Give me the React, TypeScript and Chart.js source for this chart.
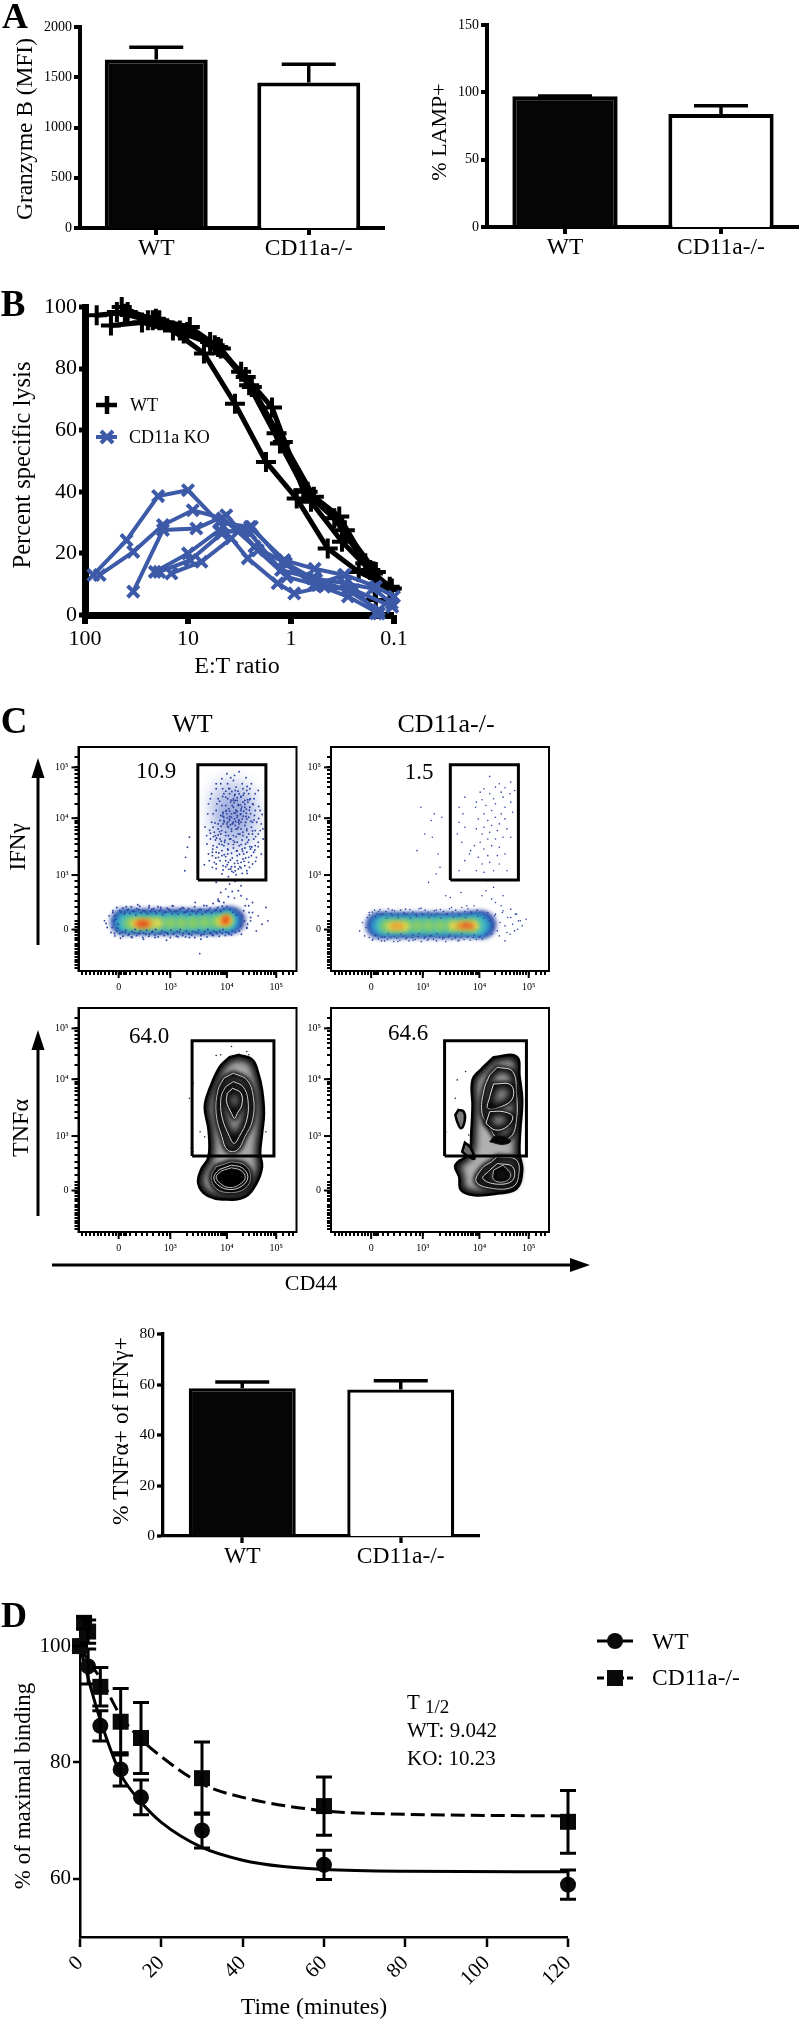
import React, { useEffect, useRef } from "react";
import { Chart, registerables } from "chart.js";

Chart.register(...registerables);

const F = "'Liberation Serif'";
const BLUE = "#3d5aa8";

/* ---------- panel A ---------- */
const barCats = ["WT", "CD11a-/-"];
const granzyme = [1676, 1448];
const granzymeTop = [1798, 1630];
const lamp = [97, 84];
const lampTop = [97.2, 90];
const tnfOfIfn = [58.5, 58];
const tnfOfIfnTop = [61, 61.5];

/* ---------- panel B: E:T ratio, percent lysis ---------- */
const wtX = [
  [56, 28, 14, 7, 3.5, 1.75, 0.88, 0.44, 0.22, 0.11],
  [77, 38.5, 19, 9.6, 4.8, 2.4, 1.2, 0.6, 0.3, 0.15],
  [44, 22, 11, 5.5, 2.75, 1.38, 0.69, 0.34, 0.17, 0.105],
  [49, 24.5, 12, 6.1, 3.05, 1.53, 0.76, 0.38, 0.19, 0.11],
  [41, 20.5, 10.2, 5.1, 2.55, 1.28, 0.64, 0.32, 0.16, 0.15],
];
const wtY = [
  [94, 95, 92.4, 84.9, 68.6, 49.7, 37.8, 21.6, 14, 9.2],
  [97.3, 98.4, 95.7, 93.5, 86.5, 74, 56.2, 38.4, 27.5, 14],
  [100, 95.7, 91.4, 87.6, 77.3, 59, 40, 32, 14.6, 8.6],
  [98.4, 95.7, 92.4, 88.6, 79, 67.4, 40.5, 31.4, 16.8, 8.1],
  [97.8, 96.2, 91.9, 87, 74.6, 55.7, 36.8, 23.8, 13.5, 4.9],
];
const koX = [
  [83, 39.5, 19.5, 10, 5, 2.5, 1.16, 0.59, 0.305, 0.15],
  [72, 34, 17.5, 9, 4.6, 2.26, 1.12, 0.57, 0.283, 0.14],
  [34, 17.5, 8.3, 4.25, 2.1, 1.1, 0.55, 0.28, 0.14],
  [21, 10, 4.94, 2.5, 1.25, 0.62, 0.3, 0.16, 0.105],
  [19, 9.5, 4.7, 2.4, 1.2, 0.6, 0.3, 0.15, 0.1],
  [14.5, 7.4, 3.8, 2.63, 1.35, 0.93, 0.475, 0.244, 0.104],
];
const koY = [
  [13, 24.3, 38.6, 40.5, 30, 28.6, 17.8, 15, 13, 0.5],
  [13, 20.5, 29.2, 34, 31.4, 22.2, 16.8, 11.4, 8.1, 1.6],
  [7.6, 27.6, 28.1, 32.4, 21, 12.4, 9.7, 6, 0.5],
  [14, 20, 27.6, 26.5, 14.6, 11.9, 10.3, 8.6, 3.8],
  [14, 17.8, 26.5, 28.6, 17.3, 9.7, 13, 9.2, 6],
  [13.5, 17.3, 24.9, 18.4, 10.3, 7, 9.2, 8.1, 2.7],
];

/* ---------- panel C: flow channels (biexponential display units) ---------- */
const flowMajorX = [105, 240, 388, 517];
const flowMajorY = [124, 287, 457, 609];
const flowLabels = ["0", "10³", "10⁴", "10⁵"];
const flowMinorX = [10, 20, 30, 40, 50, 60, 70, 80, 90, 98, 112, 118, 124, 135, 150, 165, 180, 195, 210, 222, 232, 284, 300, 312, 322, 332, 342, 350, 358, 365, 372, 378, 384, 430, 446, 458, 468, 478, 487, 495, 503, 510, 535, 550, 560];
const flowMinorY = [10, 18, 26, 34, 42, 50, 58, 66, 74, 82, 92, 100, 108, 116, 132, 140, 150, 170, 190, 210, 230, 250, 270, 340, 360, 380, 395, 410, 422, 432, 442, 450, 500, 530, 550, 565, 578, 590, 600, 640];

const ifnBandWt = [
  { color: "#2a3f9e", r: 13, x: [118, 145, 175, 205, 235, 265, 295, 325, 355, 385, 402], y: [147, 147, 147, 147, 147, 147, 147, 147, 147, 152, 152] },
  { color: "#2a7fc9", r: 11, x: [120, 145, 175, 205, 235, 265, 295, 325, 355, 385, 396], y: [147, 147, 146, 146, 146, 146, 146, 146, 147, 150, 150] },
  { color: "#45bcc0", r: 9, x: [125, 150, 175, 205, 235, 265, 295, 325, 355, 385, 390], y: [145, 145, 145, 145, 145, 145, 145, 145, 147, 150, 150] },
  { color: "#86cc68", r: 6.5, x: [135, 160, 185, 210, 240, 270, 300, 330, 360, 385], y: [143, 143, 143, 143, 143, 143, 144, 146, 147, 150] },
  { color: "#ead94e", r: 4.5, x: [148, 165, 185, 205, 372, 385, 390], y: [142, 142, 142, 143, 148, 150, 152] },
  { color: "#f08a28", r: 3.5, x: [155, 168, 182, 382, 386], y: [142, 142, 143, 148, 155] },
  { color: "#e0261a", r: 2.2, x: [160, 168, 176, 384, 386], y: [140, 142, 140, 148, 158] },
];
const ifnBandKo = [
  { color: "#2a3f9e", r: 13, x: [125, 150, 180, 210, 240, 270, 300, 330, 360, 385, 398], y: [137, 137, 137, 137, 137, 137, 137, 137, 140, 140, 138] },
  { color: "#2a7fc9", r: 11, x: [128, 155, 180, 210, 240, 270, 300, 330, 360, 380, 392], y: [137, 137, 137, 137, 137, 137, 137, 137, 138, 138, 136] },
  { color: "#45bcc0", r: 9, x: [135, 155, 180, 210, 240, 270, 300, 330, 355, 375, 385], y: [136, 136, 136, 136, 136, 136, 136, 136, 136, 136, 136] },
  { color: "#86cc68", r: 6.5, x: [145, 170, 195, 225, 255, 285, 315, 345, 370], y: [135, 135, 135, 135, 136, 136, 136, 136, 136] },
  { color: "#ead94e", r: 4.5, x: [158, 175, 192, 320, 340, 360, 375], y: [134, 134, 134, 135, 135, 136, 135] },
  { color: "#f08a28", r: 3, x: [165, 180, 335, 350, 365], y: [134, 134, 135, 135, 135] },
  { color: "#e0261a", r: 2, x: [345, 355, 365], y: [134, 138, 132] },
];
const ifnCloudBlobWt = { color: "rgba(50,85,185,0.25)", r: 22, x: [410, 405, 400], y: [470, 420, 510] };
const ifnDotsWtX = [340, 352, 331, 345, 358, 336, 350, 366, 342, 329, 360, 375, 392, 410, 428, 447, 463, 478, 470, 483, 475, 466, 480, 471, 459, 470, 452, 438, 420, 405, 388, 372, 360, 348, 365, 380, 395, 412, 430, 445, 455, 442, 425, 408, 390, 375, 360, 372, 386, 402, 418, 435, 450, 440, 425, 410, 395, 380, 365, 375, 390, 405, 420, 435, 452, 445, 430, 415, 400, 385, 370, 382, 398, 412, 428, 442, 458, 450, 435, 420, 405, 390, 375, 362, 385, 400, 415, 432, 445, 425, 408, 392, 378, 398, 418, 435, 355, 348, 362, 377, 428, 448, 462, 478, 340, 355, 470, 458, 360, 378, 395, 410, 425, 385, 402, 418, 372, 392, 408, 425, 440, 365, 455, 380, 290, 285, 280, 278, 395, 412, 405, 418, 430, 388, 400, 415, 425, 378, 392, 440, 422, 408];
const ifnDotsWtY = [500, 470, 431, 412, 392, 380, 355, 340, 330, 318, 306, 290, 282, 300, 292, 310, 328, 350, 372, 395, 420, 445, 468, 492, 515, 540, 560, 578, 596, 570, 590, 560, 545, 530, 515, 530, 545, 550, 545, 530, 500, 512, 520, 525, 515, 495, 480, 465, 480, 495, 498, 490, 470, 455, 470, 472, 462, 450, 440, 420, 432, 445, 450, 435, 430, 410, 415, 425, 418, 405, 395, 385, 395, 402, 392, 385, 395, 365, 368, 375, 378, 365, 360, 370, 342, 352, 345, 350, 340, 325, 322, 325, 315, 305, 305, 315, 415, 445, 500, 545, 560, 545, 480, 440, 350, 325, 410, 355, 265, 272, 260, 268, 255, 245, 238, 240, 235, 222, 218, 225, 215, 215, 205, 205, 400, 370, 340, 300, 455, 480, 510, 445, 505, 440, 470, 460, 480, 475, 405, 420, 410, 385];
const ifnMoreWtX = [400, 408, 415, 395, 388, 420, 428, 412, 405, 398, 385, 378, 370, 392, 400, 410, 418, 425, 437, 445, 432, 425, 415, 405, 395, 385, 410, 420, 435, 448, 460, 455, 440, 430, 418, 405, 395, 385, 372, 365, 378, 352, 345, 358, 368, 380, 392, 405, 415, 425, 437, 448, 462, 470, 455, 462, 440, 352, 360, 375, 390, 402, 415, 428, 440, 452, 465, 445, 430, 415, 400, 385, 370, 360, 350, 378, 405, 422, 440, 455, 412, 398, 375, 360, 345, 338, 335, 350, 390, 408, 440, 462, 475, 482, 412, 402, 390, 380, 425, 395, 438, 418, 410];
const ifnMoreWtY = [460, 455, 465, 450, 470, 440, 455, 480, 490, 505, 495, 470, 450, 430, 425, 435, 430, 445, 445, 460, 478, 485, 510, 515, 530, 520, 540, 530, 510, 490, 465, 445, 425, 405, 410, 405, 395, 415, 410, 425, 440, 430, 395, 405, 380, 375, 380, 390, 385, 378, 380, 372, 375, 385, 410, 420, 400, 375, 355, 345, 350, 338, 360, 365, 355, 345, 340, 325, 335, 330, 312, 330, 330, 320, 310, 302, 295, 312, 300, 320, 288, 578, 575, 560, 515, 470, 405, 345, 560, 585, 540, 530, 480, 425, 425, 440, 445, 460, 425, 478, 462, 495, 510];
const ifnThirdWtX = [403, 411, 419, 397, 389, 381, 373, 407, 415, 423, 431, 439, 447, 427, 435, 443, 451, 459, 393, 385, 377, 369, 361, 353, 399, 407, 415, 423, 431, 439, 447, 455, 463, 471, 391, 383, 375, 367, 359, 351, 343, 405, 413, 421, 429, 437, 445, 453, 461, 397, 389, 381, 373, 365, 357, 401, 409, 417, 425, 433, 441, 449, 457, 393, 385, 377, 369, 409, 417, 425, 433, 441, 401, 393, 385];
const ifnThirdWtY = [441, 447, 452, 437, 458, 446, 433, 473, 477, 468, 463, 472, 481, 491, 499, 505, 448, 452, 485, 478, 463, 417, 398, 402, 511, 503, 518, 497, 526, 484, 512, 419, 402, 456, 362, 391, 378, 353, 338, 364, 421, 368, 359, 349, 358, 338, 392, 371, 362, 332, 318, 348, 388, 407, 443, 537, 528, 538, 522, 532, 552, 515, 498, 546, 538, 522, 508, 312, 322, 308, 328, 292, 298, 304, 312];
const ifnEdgeWtX = [68, 75, 80, 85, 90, 72, 95, 100, 110, 125, 140, 155, 170, 185, 200, 215, 230, 245, 260, 275, 290, 305, 320, 335, 350, 365, 440, 450, 455, 465, 470, 480, 490, 495, 445, 317];
const ifnEdgeWtY = [150, 130, 165, 115, 180, 142, 105, 190, 98, 192, 100, 198, 95, 195, 100, 190, 92, 195, 102, 188, 100, 205, 95, 195, 108, 210, 130, 150, 175, 120, 165, 140, 190, 150, 195, 52];
const ifnRagWtX = [108, 116, 122, 130, 138, 146, 152, 160, 168, 176, 184, 192, 200, 208, 216, 224, 232, 240, 248, 256, 264, 272, 280, 288, 296, 304, 312, 320, 328, 336, 344, 352, 360, 368, 376, 108, 116, 122, 130, 138, 146, 152, 160, 168, 176, 184, 192, 200, 208, 216, 224, 232, 240, 248, 256, 264, 272, 280, 288, 296, 304, 312, 320, 328, 336, 344, 352, 360, 368, 376, 384, 392, 400, 88, 92, 96, 100, 104, 90, 94, 98, 102, 420, 424, 428, 432, 426, 434, 440, 446, 436, 442, 450];
const ifnRagWtY = [180, 188, 176, 184, 192, 178, 186, 194, 180, 176, 190, 183, 178, 192, 184, 176, 188, 180, 194, 178, 184, 190, 176, 186, 180, 192, 178, 184, 196, 180, 188, 202, 184, 208, 194, 112, 104, 116, 108, 102, 114, 106, 112, 100, 110, 104, 116, 108, 102, 112, 106, 114, 100, 110, 104, 116, 106, 102, 112, 108, 100, 114, 106, 110, 102, 112, 106, 116, 104, 112, 106, 114, 108, 130, 150, 165, 120, 140, 175, 112, 155, 128, 120, 135, 165, 180, 110, 150, 128, 175, 195, 140, 160];
const ifnGrainWtX = [112, 120, 128, 134, 142, 150, 158, 164, 172, 180, 188, 196, 204, 212, 220, 228, 236, 244, 252, 260, 268, 276, 284, 292, 300, 308, 316, 324, 332, 340, 348, 356, 364, 372, 380, 388, 396, 404, 412, 114, 124, 132, 140, 148, 156, 162, 170, 178, 186, 194, 202, 210, 218, 226, 234, 242, 250, 258, 266, 274, 282, 290, 298, 306, 314, 322, 330, 338, 346, 354, 362, 370, 378, 386, 394, 402, 410];
const ifnGrainWtY = [176, 170, 182, 172, 178, 168, 184, 174, 180, 170, 178, 186, 172, 180, 168, 176, 184, 172, 178, 170, 186, 174, 180, 168, 178, 172, 184, 170, 176, 182, 174, 180, 190, 178, 186, 192, 184, 176, 168, 116, 122, 110, 118, 124, 112, 120, 114, 122, 110, 118, 124, 112, 120, 116, 110, 122, 114, 118, 124, 112, 120, 110, 118, 116, 122, 110, 118, 124, 114, 120, 112, 118, 124, 116, 110, 120, 116];
const ifnDotsKoX = [415, 440, 470, 455, 430, 400, 390, 415, 445, 468, 480, 450, 425, 395, 380, 350, 335, 345, 335, 350, 330, 342, 362, 350, 335, 378, 405, 430, 455, 470, 475, 445, 420, 400, 385, 410, 430, 455, 440, 420, 400, 380, 395, 415, 435, 460, 470, 450, 430, 410, 390, 375, 400, 420, 440, 455, 435, 410, 385, 365, 395, 415, 440, 460, 425, 400, 380, 410, 425, 405, 395, 420, 430, 450, 235, 262, 270, 245, 225, 290, 265, 275, 285, 255, 280, 300, 312, 340];
const ifnDotsKoY = [582, 560, 565, 548, 550, 545, 535, 530, 535, 530, 540, 520, 515, 512, 505, 520, 490, 470, 445, 430, 410, 385, 350, 330, 300, 490, 495, 500, 490, 505, 475, 470, 480, 470, 455, 450, 460, 455, 440, 435, 430, 425, 410, 415, 420, 425, 400, 400, 395, 395, 385, 375, 365, 375, 370, 350, 345, 345, 340, 360, 320, 325, 320, 300, 300, 295, 300, 270, 250, 240, 225, 215, 205, 225, 490, 450, 470, 410, 360, 460, 400, 290, 310, 265, 350, 225, 220, 235];
const ifnEdgeKoX = [75, 82, 88, 95, 92, 100, 110, 125, 140, 160, 175, 195, 215, 235, 255, 275, 295, 315, 335, 355, 410, 420, 430, 440, 450, 460, 470, 480, 490, 500, 510, 470, 485, 445, 455, 415, 422, 428, 435, 442, 448, 455, 462, 468, 475, 482, 488, 495];
const ifnEdgeKoY = [120, 145, 105, 160, 130, 175, 95, 178, 90, 182, 88, 185, 92, 188, 95, 182, 100, 190, 92, 195, 175, 110, 170, 105, 180, 115, 160, 120, 150, 135, 155, 185, 170, 195, 90, 150, 130, 165, 120, 145, 175, 135, 160, 110, 140, 170, 125, 150];
const ifnRagKoX = [100, 108, 114, 120, 128, 136, 144, 150, 158, 166, 174, 182, 190, 198, 206, 214, 222, 230, 238, 246, 254, 262, 270, 278, 286, 294, 302, 310, 318, 326, 334, 342, 350, 358, 366, 374, 382, 100, 108, 116, 124, 132, 140, 148, 156, 164, 172, 180, 188, 196, 204, 212, 220, 228, 236, 244, 252, 260, 268, 276, 284, 292, 300, 308, 316, 324, 332, 340, 348, 356, 364, 372, 380, 388, 396];
const ifnRagKoY = [168, 176, 182, 172, 184, 170, 178, 186, 172, 180, 168, 182, 175, 170, 184, 176, 170, 186, 172, 182, 176, 168, 180, 172, 184, 178, 170, 186, 176, 182, 172, 190, 178, 186, 176, 195, 182, 100, 92, 106, 96, 90, 102, 94, 100, 88, 98, 92, 104, 96, 90, 100, 94, 102, 88, 98, 92, 104, 94, 90, 100, 96, 88, 102, 94, 98, 90, 100, 94, 104, 92, 100, 94, 102, 96];
const ifnGrainKoX = [116, 130, 146, 160, 176, 192, 208, 224, 240, 256, 272, 288, 304, 320, 336, 352, 368, 384, 400, 118, 134, 150, 166, 182, 198, 214, 230, 246, 262, 278, 294, 310, 326, 342, 358, 374, 390, 406];
const ifnGrainKoY = [162, 168, 158, 166, 160, 170, 158, 164, 168, 160, 166, 158, 170, 162, 166, 160, 172, 164, 158, 108, 102, 112, 104, 110, 100, 108, 112, 102, 106, 112, 100, 108, 104, 112, 102, 108, 104, 110];

// gate rectangles, closed
const gateIfnX = [312, 490, 490, 312, 312];
const gateIfnY = [272, 272, 617, 617, 272];
const gateTnfX = [297, 511, 511, 297, 297];
const gateTnfY = [227, 227, 572, 572, 227];

// contours: [x, y, x, y, ...], listed from the outside in
const tnfWt = [
  { fill: "#a8a8a8", line: "#000", w: 2.5, p: [420, 530, 455, 515, 470, 475, 480, 425, 485, 355, 480, 295, 475, 235, 480, 195, 465, 145, 435, 105, 385, 97, 335, 110, 313, 145, 320, 185, 340, 225, 340, 305, 330, 375, 345, 435, 370, 495, 395, 523] },
  { fill: "#9a9a9a", line: "#cfcfcf", w: 1, halo: true, p: [405, 475, 440, 455, 457, 405, 455, 335, 435, 285, 415, 245, 390, 245, 375, 285, 360, 355, 365, 425, 380, 460] },
  { fill: "#9e9e9e", line: "#d4d4d4", w: 1, halo: true, p: [405, 450, 430, 435, 443, 395, 440, 335, 420, 285, 407, 265, 395, 285, 375, 345, 373, 405, 385, 435] },
  { fill: "#a6a6a6", line: "#dedede", w: 1, halo: true, p: [403, 430, 425, 415, 427, 380, 415, 355, 408, 340, 400, 355, 387, 390, 389, 415] },
  { fill: "#7c7c7c", line: "#cfcfcf", w: 1, halo: true, p: [400, 210, 435, 200, 450, 165, 435, 130, 395, 118, 360, 130, 347, 165, 360, 195] },
  { fill: "#5a5a5a", line: "#cfcfcf", w: 1, halo: true, p: [400, 200, 428, 192, 443, 165, 428, 138, 395, 127, 364, 141, 354, 165, 368, 187] },
  { fill: "#333333", line: "#bdbdbd", w: 1, p: [400, 192, 425, 184, 436, 163, 422, 143, 395, 133, 371, 145, 360, 165, 374, 183] },
  { fill: "#050505", line: "#080808", w: 1, p: [400, 188, 422, 178, 430, 160, 418, 143, 395, 137, 375, 147, 365, 165, 380, 182] },
];
const tnfKo = [
  { fill: "#b0b0b0", line: "#000", w: 2.5, p: [425, 523, 485, 525, 493, 465, 500, 395, 495, 305, 493, 235, 500, 185, 485, 130, 435, 115, 375, 110, 340, 125, 335, 165, 325, 200, 360, 235, 367, 305, 370, 375, 370, 455, 395, 490] },
  { fill: "#a8a8a8", line: "#d8d8d8", w: 1, halo: true, p: [435, 493, 475, 480, 485, 415, 485, 335, 470, 285, 435, 280, 415, 315, 395, 355, 400, 425, 415, 470] },
  { fill: "#8a8a8a", line: "#dedede", w: 1, halo: true, p: [425, 443, 470, 440, 475, 400, 445, 375, 410, 370, 415, 405] },
  { fill: "#a0a0a0", line: "#dedede", w: 1, halo: true, p: [415, 360, 450, 360, 475, 345, 460, 315, 430, 305, 405, 325] },
  { fill: "#0a0a0a", line: "#0a0a0a", w: 1, shade: 2, p: [415, 270, 450, 262, 470, 272, 450, 285, 425, 285] },
  { fill: "#a8a8a8", line: "#d8d8d8", w: 1, halo: true, p: [435, 225, 485, 215, 490, 165, 475, 135, 425, 130, 380, 150, 395, 190, 420, 210] },
  { fill: "#8a8a8a", line: "#d8d8d8", w: 1, halo: true, p: [435, 205, 475, 195, 475, 155, 435, 143, 397, 160, 415, 185] },
  { fill: "#383838", line: "#aaaaaa", w: 1, p: [450, 200, 470, 170, 453, 150, 425, 157, 425, 185] },
  { fill: "#cfcfcf", line: "#000", w: 2.5, shade: 3, p: [333, 365, 347, 360, 350, 335, 340, 310, 330, 330, 325, 350] },
  { fill: "#c0c0c0", line: "#000", w: 2.5, shade: 3, p: [350, 267, 363, 255, 375, 220, 360, 225, 343, 240] },
];
const tnfSpeckWtX = [300, 330, 290, 318, 395, 400, 372, 440, 445, 300, 295, 490, 360];
const tnfSpeckWtY = [445, 285, 400, 300, 520, 555, 530, 540, 530, 240, 250, 300, 528];
const tnfSpeckKoX = [330, 352, 325, 300, 360, 335, 350];
const tnfSpeckKoY = [455, 480, 400, 300, 290, 215, 240];

/* ---------- panel D ---------- */
const timeWt = [0, 2, 5, 10, 15, 30, 60, 120];
const bindWt = [100, 96.5, 86.3, 78.8, 74, 68.3, 62.4, 59];
const errWt = [0, 3, 2.6, 2.85, 3, 3, 2.5, 2.5];
const timeKo = [0, 1, 2, 5, 10, 15, 30, 60, 120];
const bindKo = [100, 104, 102.5, 93, 87, 84.2, 77.3, 72.5, 69.8];
const errKo = [0, 1, 2, 3.3, 5.7, 6.1, 6.2, 5, 5.4];
const fitWtX = [0, 2, 5, 10, 15, 20, 30, 40, 50, 60, 80, 120];
const fitWtY = [100, 94.5, 87.3, 78, 73.2, 69.7, 65.4, 63.2, 62.1, 61.6, 61.3, 61.2];
const fitKoX = [0, 2, 5, 10, 15, 20, 30, 40, 60, 80, 120];
const fitKoY = [100, 97.5, 94.5, 88, 84, 81, 76.3, 74, 71.7, 71.1, 70.8];

/* ---------- plugins ---------- */
const errorBars = {
  id: "errorBars",
  afterDatasetDraw(chart: any, args: any) {
    const ds = chart.data.datasets[args.index];
    if (!ds.errHi) return;
    const { ctx } = chart;
    const ys = chart.scales.y;
    ctx.save();
    ctx.strokeStyle = "#000";
    ctx.lineWidth = ds.errW;
    args.meta.data.forEach((el: any, i: number) => {
      const x = el.x;
      const hi = ys.getPixelForValue(ds.errHi[i]);
      const lo = ys.getPixelForValue(ds.errLo ? ds.errLo[i] : ds.data[i].y ?? ds.data[i]);
      ctx.beginPath();
      ctx.moveTo(x, lo);
      ctx.lineTo(x, hi);
      ctx.moveTo(x - ds.errCap, hi);
      ctx.lineTo(x + ds.errCap, hi);
      if (ds.errLo) {
        ctx.moveTo(x - ds.errCap, lo);
        ctx.lineTo(x + ds.errCap, lo);
      }
      ctx.stroke();
    });
    ctx.restore();
  },
};

const shading = {
  id: "shading",
  beforeDatasetDraw(chart: any, args: any) {
    const ds = chart.data.datasets[args.index];
    const { ctx } = chart;
    if (ds.blur) {
      ctx.save();
      ctx.filter = `blur(${ds.blur}px)`;
    }
    if (ds.contour) {
      const line = args.meta.dataset;
      line._loop = true;
      line._segments = undefined;
      line._pointsUpdated = false;
      line.updateControlPoints(chart.chartArea);
      const trace = () => {
        ctx.beginPath();
        line.path(ctx);
        ctx.closePath();
      };
      if (ds.halo) {
        ctx.save();
        ctx.filter = "blur(2px)";
        ctx.strokeStyle = "#000";
        ctx.lineWidth = 5;
        trace();
        ctx.stroke();
        ctx.restore();
      }
      ctx.save();
      trace();
      ctx.clip();
      ctx.fillStyle = ds.backgroundColor;
      ctx.fill();
      ctx.filter = "blur(3.5px)";
      ctx.strokeStyle = "#000";
      ctx.lineWidth = ds.shade || 10;
      trace();
      ctx.stroke();
      ctx.restore();
      ctx.strokeStyle = ds.borderColor;
      ctx.lineWidth = ds.borderWidth;
      trace();
      ctx.stroke();
      return false;
    }
    return undefined;
  },
  afterDatasetDraw(chart: any, args: any) {
    if (chart.data.datasets[args.index].blur) chart.ctx.restore();
  },
};

const frame = {
  id: "frame",
  afterDraw(chart: any, _a: any, opts: any) {
    if (!opts.on) return;
    const { ctx, chartArea: c } = chart;
    ctx.save();
    ctx.strokeStyle = "#000";
    ctx.lineWidth = 2;
    ctx.strokeRect(c.left, c.top, c.right - c.left, c.bottom - c.top);
    ctx.restore();
  },
};

const longTicks = {
  id: "longTicks",
  afterDraw(chart: any, _a: any, opts: any) {
    const { ctx, chartArea: c } = chart;
    ctx.save();
    ctx.strokeStyle = "#000";
    if (opts.x) {
      ctx.lineWidth = opts.x.w;
      opts.x.values.forEach((v: number) => {
        const p = chart.scales.x.getPixelForValue(v);
        ctx.beginPath();
        ctx.moveTo(p, c.bottom);
        ctx.lineTo(p, c.bottom + opts.x.len);
        ctx.stroke();
      });
    }
    if (opts.y) {
      ctx.lineWidth = opts.y.w;
      opts.y.values.forEach((v: number) => {
        const p = chart.scales.y.getPixelForValue(v);
        ctx.beginPath();
        ctx.moveTo(c.left, p);
        ctx.lineTo(c.left - opts.y.len, p);
        ctx.stroke();
      });
    }
    ctx.restore();
  },
};

/* ---------- helpers ---------- */
type Box = { l: number; t: number; r: number; b: number };

function axis(lw: number, tickLen: number, tickW: number, size: number, pad: number, extra: any = {}) {
  return {
    border: { color: "#000", width: lw },
    grid: { drawOnChartArea: false, drawTicks: true, tickLength: tickLen, tickWidth: tickW, tickColor: "#000", lineWidth: 0, offset: false },
    ticks: { color: "#000", font: { family: F, size }, padding: pad, autoSkip: false, maxRotation: 0, minRotation: 0, ...(extra.ticks || {}) },
    ...(extra.rest || {}),
  };
}

function build(type: string, box: Box, plot: Box, datasets: any[], x: any, y: any, labels: any = undefined, pluginOpts: any = {}) {
  return {
    box,
    config: {
      type,
      data: { labels, datasets: [...datasets].reverse() },
      plugins: [errorBars, shading, frame, longTicks],
      options: {
        responsive: false,
        animation: false,
        devicePixelRatio: 1,
        events: [],
        layout: { autoPadding: false, padding: { top: plot.t - box.t, right: box.r - plot.r, left: 0, bottom: 0 } },
        plugins: { legend: { display: false }, tooltip: { enabled: false }, frame: { on: false }, longTicks: {}, ...pluginOpts },
        scales: {
          x: { ...x, afterFit(s: any) { s.height = box.b - plot.b; } },
          y: { ...y, afterFit(s: any) { s.width = plot.l - box.l; } },
        },
      },
    },
  };
}

const pts = (xs: number[], ys: number[]) => xs.map((v, i) => ({ x: v, y: ys[i] }));
const pairs = (p: number[]) => {
  const out = [];
  for (let i = 0; i < p.length; i += 2) out.push({ x: p[i], y: p[i + 1] });
  return out;
};

function barChart(box: Box, plot: Box, vals: number[], tops: number[], yMax: number, yStep: number, lw: number, size: number) {
  const ds = [
    {
      type: "bar",
      data: vals,
      backgroundColor: ["#050505", "#ffffff"],
      borderColor: "#000",
      borderWidth: lw,
      barPercentage: 0.675,
      categoryPercentage: 1,
      errHi: tops,
      errCap: 27,
      errW: 3.5,
    },
  ];
  const yTicks: number[] = [];
  for (let v = 0; v <= yMax; v += yStep) yTicks.push(v);
  return build(
    "bar",
    box,
    plot,
    ds,
    axis(lw, 7, lw, 23.5, 0, { rest: {} }),
    axis(lw, 6, lw, size, 2, {
      ticks: { callback: (v: number) => String(v) },
      rest: { min: 0, max: yMax, afterBuildTicks(s: any) { s.ticks = yTicks.map((value) => ({ value })); } },
    }),
    barCats
  );
}

function flowScatter(layers: any[] | null, blobs: any, dots: number[][][], dotR: number, gx: number[], gy: number[], box: Box, plot: Box, contours: any[] | null) {
  const ds: any[] = [];
  if (blobs) ds.push({ data: pts(blobs.x, blobs.y), pointRadius: blobs.r, pointBackgroundColor: blobs.color, pointBorderWidth: 0, blur: 8 });
  if (layers) {
    layers.forEach((l) =>
      ds.push({ data: pts(l.x, l.y), pointRadius: l.r, pointBackgroundColor: l.color, pointBorderWidth: 0, blur: 2.5 })
    );
  }
  dots.forEach((d) => ds.push({ data: pts(d[0], d[1]), pointRadius: dotR, pointBackgroundColor: contours ? "#222" : "#2f45a3", pointBorderWidth: 0 }));
  if (contours) {
    contours.forEach((c) =>
      ds.push({ data: pairs(c.p), showLine: true, pointRadius: 0, tension: 0.4, contour: true, halo: c.halo, shade: c.shade, backgroundColor: c.fill, borderColor: c.line, borderWidth: c.w })
    );
  }
  ds.push({ data: pts(gx, gy), showLine: true, pointRadius: 0, borderColor: "#000", borderWidth: 3, tension: 0, borderJoinStyle: "miter" });

  const label = (majors: number[]) => (v: number) => {
    const i = majors.indexOf(v);
    return i >= 0 ? flowLabels[i] : "";
  };
  const xs = [...flowMinorX, ...flowMajorX].sort((a, b) => a - b);
  const ys = [...flowMinorY, ...flowMajorY].sort((a, b) => a - b);
  return build(
    "scatter",
    box,
    plot,
    ds,
    axis(2, 4, 2, 10, 6, { ticks: { callback: label(flowMajorX) }, rest: { type: "linear", min: 0, max: 570, afterBuildTicks(s: any) { s.ticks = xs.map((value) => ({ value })); } } }),
    axis(2, 4, 2, 10, 6, { ticks: { callback: label(flowMajorY) }, rest: { type: "linear", min: 0, max: 670, afterBuildTicks(s: any) { s.ticks = ys.map((value) => ({ value })); } } }),
    undefined,
    { frame: { on: true }, longTicks: { x: { values: flowMajorX, len: 7, w: 2 }, y: { values: flowMajorY, len: 7, w: 2 } } }
  );
}

/* ---------- charts ---------- */
const logMajors = [100, 10, 1, 0.1];
const lysisDatasets = [
  ...wtX.map((xs, i) => ({ data: pts(xs, wtY[i]), showLine: true, borderColor: "#000", borderWidth: 5, pointStyle: "cross", pointRadius: 10, pointBorderColor: "#000", pointBorderWidth: 4, clip: false })),
  ...koX.map((xs, i) => ({ data: pts(xs, koY[i]), showLine: true, borderColor: BLUE, borderWidth: 4, pointStyle: "crossRot", pointRadius: 8, pointBorderColor: BLUE, pointBorderWidth: 4, clip: false })),
];

const yLysisTicks = [0, 20, 40, 60, 80, 100];
const lysis = build(
  "scatter",
  { l: 30, t: 285, r: 425, b: 655 },
  { l: 85, t: 307, r: 394, b: 615 },
  lysisDatasets,
  axis(7, 4, 2.5, 22, 7, {
    ticks: { callback: (v: number) => (logMajors.some((m) => Math.abs(m - v) < 1e-9) ? String(v) : "") },
    rest: { type: "logarithmic", min: 0.1, max: 100, reverse: true },
  }),
  axis(7, 6, 5, 22, 2, { rest: { type: "linear", min: 0, max: 100, afterBuildTicks(s: any) { s.ticks = yLysisTicks.map((value) => ({ value })); } } }),
  undefined,
  { longTicks: { x: { values: logMajors, len: 9, w: 6 } } }
);

const decay = build(
  "scatter",
  { l: 30, t: 1600, r: 590, b: 1990 },
  { l: 80, t: 1617, r: 568, b: 1937 },
  [
    { data: pts(fitKoX, fitKoY), showLine: true, pointRadius: 0, borderColor: "#000", borderWidth: 3, borderDash: [14, 6], cubicInterpolationMode: "monotone", clip: false },
    { data: pts(fitWtX, fitWtY), showLine: true, pointRadius: 0, borderColor: "#000", borderWidth: 3, cubicInterpolationMode: "monotone", clip: false },
    { data: pts(timeWt, bindWt), pointStyle: "circle", pointRadius: 8, pointBackgroundColor: "#0a0a0a", pointBorderWidth: 0, errHi: bindWt.map((v, i) => v + errWt[i]), errLo: bindWt.map((v, i) => v - errWt[i]), errCap: 8, errW: 3, clip: false },
    { data: pts(timeKo, bindKo), pointStyle: "rect", pointRadius: 11.3, pointBackgroundColor: "#0a0a0a", pointBorderWidth: 0, errHi: bindKo.map((v, i) => v + errKo[i]), errLo: bindKo.map((v, i) => v - errKo[i]), errCap: 8, errW: 3, clip: false },
  ],
  axis(2.5, 10, 2.5, 21, 4, {
    ticks: { maxRotation: 45, minRotation: 45 },
    rest: { type: "linear", min: 0, max: 120, afterBuildTicks(s: any) { s.ticks = [0, 20, 40, 60, 80, 100, 120].map((value) => ({ value })); } },
  }),
  axis(2.5, 7, 2.5, 21, 2, { rest: { type: "linear", min: 50, max: 105, afterBuildTicks(s: any) { s.ticks = [60, 80, 100].map((value) => ({ value })); } } })
);

const charts = [
  barChart({ l: 30, t: 10, r: 395, b: 262 }, { l: 80, t: 27, r: 385, b: 228 }, granzyme, granzymeTop, 2000, 500, 4, 14),
  barChart({ l: 445, t: 10, r: 800, b: 262 }, { l: 487, t: 25, r: 799, b: 227 }, lamp, lampTop, 150, 50, 4, 14),
  lysis,
  flowScatter(ifnBandWt, ifnCloudBlobWt, [[ifnDotsWtX, ifnDotsWtY], [ifnMoreWtX, ifnMoreWtY], [ifnThirdWtX, ifnThirdWtY], [ifnEdgeWtX, ifnEdgeWtY], [ifnRagWtX, ifnRagWtY], [ifnGrainWtX, ifnGrainWtY]], 0.95, gateIfnX, gateIfnY, { l: 45, t: 735, r: 305, b: 997 }, { l: 78.5, t: 747, r: 296.5, b: 971 }, null),
  flowScatter(ifnBandKo, null, [[ifnDotsKoX, ifnDotsKoY], [ifnEdgeKoX, ifnEdgeKoY], [ifnRagKoX, ifnRagKoY], [ifnGrainKoX, ifnGrainKoY]], 0.8, gateIfnX, gateIfnY, { l: 298, t: 735, r: 558, b: 997 }, { l: 331, t: 747, r: 549, b: 971 }, null),
  flowScatter(null, null, [[tnfSpeckWtX, tnfSpeckWtY]], 0.8, gateTnfX, gateTnfY, { l: 45, t: 996, r: 305, b: 1258 }, { l: 78.5, t: 1008, r: 296.5, b: 1232 }, tnfWt),
  flowScatter(null, null, [[tnfSpeckKoX, tnfSpeckKoY]], 0.8, gateTnfX, gateTnfY, { l: 298, t: 996, r: 558, b: 1258 }, { l: 331, t: 1008, r: 549, b: 1232 }, tnfKo),
  barChart({ l: 115, t: 1320, r: 490, b: 1570 }, { l: 163, t: 1334, r: 480, b: 1536 }, tnfOfIfn, tnfOfIfnTop, 80, 20, 3.3, 15.5),
  decay,
];

/* ---------- components ---------- */
function ChartCanvas({ spec }: { spec: any }) {
  const ref = useRef<HTMLCanvasElement>(null);
  useEffect(() => {
    const chart = new Chart(ref.current as any, spec.config as any);
    return () => chart.destroy();
  }, [spec]);
  const { l, t, r, b } = spec.box;
  return <canvas ref={ref} width={r - l} height={b - t} style={{ position: "absolute", left: l, top: t, width: r - l, height: b - t, display: "block" }} />;
}

function Txt({ x, y, size, children, rot = 0, bold = false, align = "center" }: any) {
  const tx = align === "left" ? "0%" : "-50%";
  return (
    <div
      style={{
        position: "absolute",
        left: x,
        top: y,
        transform: `translate(${tx},-50%) rotate(${rot}deg)`,
        font: `${bold ? "bold " : ""}${size}px/1 ${F}`,
        color: "#000",
        whiteSpace: "nowrap",
      }}
    >
      {children}
    </div>
  );
}

function Overlay() {
  return (
    <svg width={800} height={2020} style={{ position: "absolute", left: 0, top: 0, pointerEvents: "none" }}>
      <g stroke="#000" strokeWidth={3} fill="#000">
        <line x1={38} y1={945} x2={38} y2={770} />
        <polygon points="38,758 31.5,778 44.5,778" stroke="none" />
        <line x1={38} y1={1216} x2={38} y2={1042} />
        <polygon points="38,1030 31.5,1050 44.5,1050" stroke="none" />
        <line x1={52} y1={1265} x2={575} y2={1265} />
        <polygon points="590,1265 570,1258 570,1272" stroke="none" />
      </g>
      <g stroke="#000" strokeWidth={4.5}>
        <line x1={96} y1={405} x2={117} y2={405} />
        <line x1={107} y1={396} x2={107} y2={414} />
      </g>
      <g stroke={BLUE} strokeWidth={4}>
        <line x1={96} y1={437} x2={117} y2={437} />
        <line x1={101} y1={431} x2={113} y2={443} />
        <line x1={113} y1={431} x2={101} y2={443} />
      </g>
      <g stroke="#000" strokeWidth={3}>
        <line x1={597} y1={1641} x2={633} y2={1641} />
        <line x1={597} y1={1678} x2={633} y2={1678} strokeDasharray="7 3" />
      </g>
      <circle cx={615} cy={1641} r={8} fill="#0a0a0a" />
      <rect x={607} y={1670} width={16} height={16} fill="#0a0a0a" />
    </svg>
  );
}

export default function App() {
  return (
    <div style={{ position: "absolute", left: 0, top: 0, width: 800, height: 2020, background: "#fff", overflow: "hidden" }}>
      {charts.map((c, i) => (
        <ChartCanvas key={i} spec={c} />
      ))}
      <Overlay />

      <Txt x={15} y={16} size={36} bold>A</Txt>
      <Txt x={13} y={303} size={37} bold>B</Txt>
      <Txt x={14} y={720} size={37} bold>C</Txt>
      <Txt x={14} y={1615} size={36} bold>D</Txt>

      <Txt x={25} y={129} size={23.4} rot={-90}>Granzyme B (MFI)</Txt>
      <Txt x={439} y={132} size={22} rot={-90}>% LAMP+</Txt>

      <Txt x={22} y={465} size={24.5} rot={-90}>Percent specific lysis</Txt>
      <Txt x={237} y={665} size={24}>E:T ratio</Txt>
      <Txt x={130} y={405} size={18} align="left">WT</Txt>
      <Txt x={129} y={437} size={18} align="left">CD11a KO</Txt>

      <Txt x={192.5} y={724} size={26}>WT</Txt>
      <Txt x={446} y={724} size={26}>CD11a-/-</Txt>
      <Txt x={156} y={770} size={23}>10.9</Txt>
      <Txt x={419} y={771} size={23}>1.5</Txt>
      <Txt x={149} y={1035} size={23}>64.0</Txt>
      <Txt x={408} y={1032} size={23}>64.6</Txt>
      <Txt x={17} y={847} size={23} rot={-90}>IFNγ</Txt>
      <Txt x={20} y={1128} size={24} rot={-90}>TNFα</Txt>
      <Txt x={311} y={1283} size={22}>CD44</Txt>

      <Txt x={121} y={1431} size={23.5} rot={-90}>% TNFα+ of IFNγ+</Txt>

      <Txt x={22} y={1786} size={23} rot={-90}>% of maximal binding</Txt>
      <Txt x={314} y={2007} size={23.8}>Time (minutes)</Txt>
      <Txt x={652} y={1642} size={23.5} align="left">WT</Txt>
      <Txt x={652} y={1678} size={23.5} align="left">CD11a-/-</Txt>
      <Txt x={407} y={1702} size={21} align="left">T</Txt>
      <Txt x={425} y={1706} size={19} align="left">1/2</Txt>
      <Txt x={407} y={1730} size={21} align="left">WT: 9.042</Txt>
      <Txt x={407} y={1758} size={21} align="left">KO: 10.23</Txt>
    </div>
  );
}
